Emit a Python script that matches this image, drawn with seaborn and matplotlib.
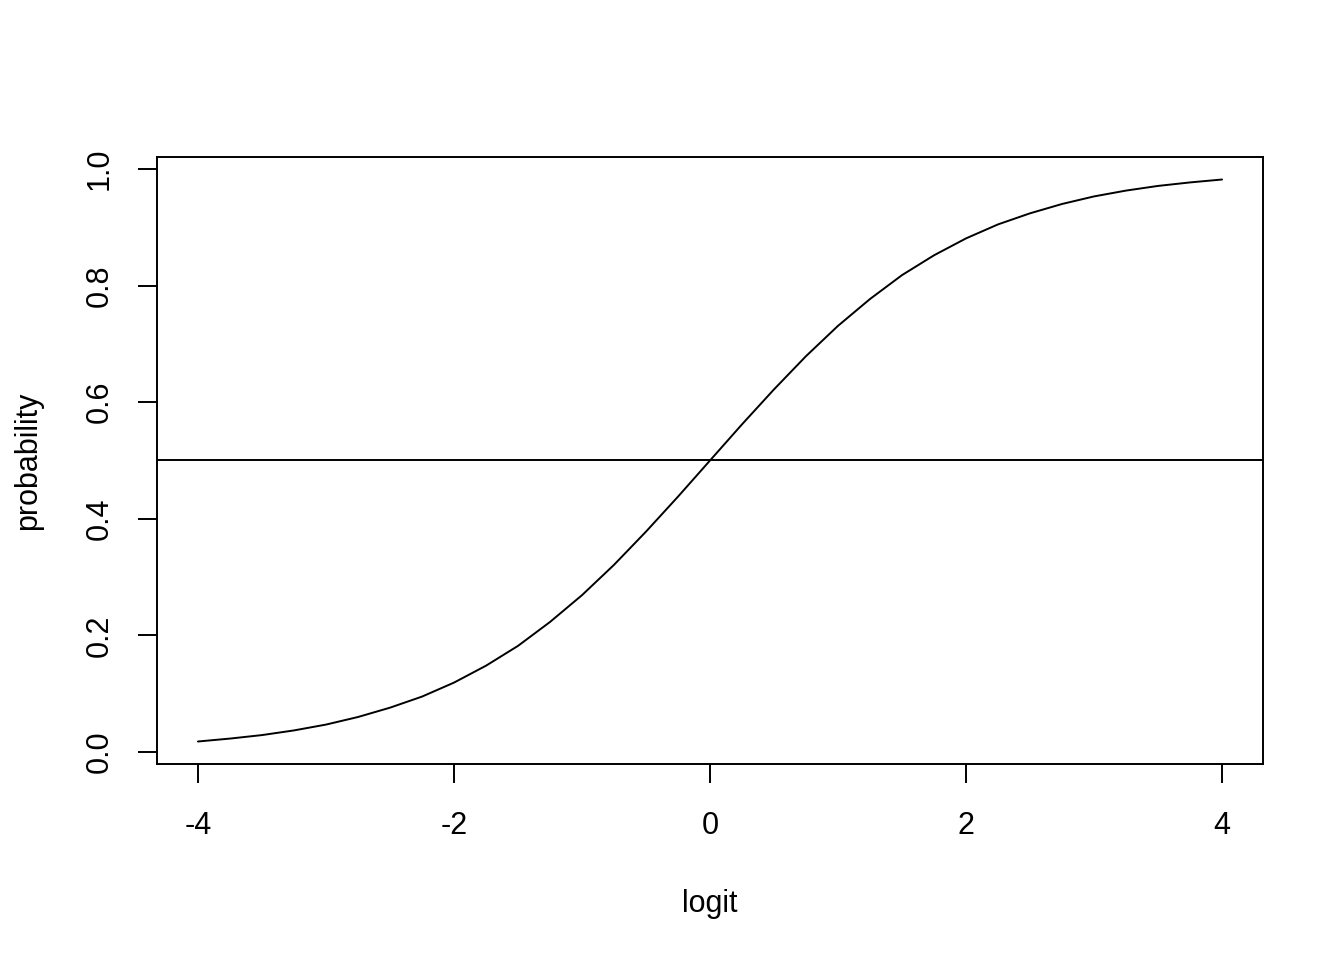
import numpy as np
import pandas as pd
import seaborn as sns
from matplotlib import pyplot as plt

# values
logit = [-4.0, -3.75, -3.5, -3.25, -3.0, -2.75, -2.5, -2.25, -2.0, -1.75, -1.5, -1.25, -1.0,
         -0.75, -0.5, -0.25, 0.0, 0.25, 0.5, 0.75, 1.0, 1.25, 1.5, 1.75, 2.0, 2.25, 2.5,
         2.75, 3.0, 3.25, 3.5, 3.75, 4.0]
probability = [0.018, 0.023, 0.029, 0.037, 0.047, 0.060, 0.076, 0.095, 0.119, 0.148, 0.182,
               0.223, 0.269, 0.321, 0.378, 0.438, 0.500, 0.562, 0.622, 0.679, 0.731, 0.777,
               0.818, 0.852, 0.881, 0.905, 0.924, 0.940, 0.953, 0.963, 0.971, 0.977, 0.982]
hline = 0.5
xticks = [-4, -2, 0, 2, 4]
yticks = [0.0, 0.2, 0.4, 0.6, 0.8, 1.0]

sns.set_style('ticks')
plt.rcParams['font.family'] = ['Liberation Sans', 'DejaVu Sans']

df = pd.DataFrame({'logit': logit, 'probability': probability})

fig = plt.figure(figsize=(13.44, 9.6), dpi=100)
ax = fig.add_axes([157 / 1344, 1 - 764 / 960, (1263 - 157) / 1344, (764 - 157) / 960])
sns.lineplot(data=df, x='logit', y='probability', color='black', lw=1.4, ax=ax)
ax.axhline(hline, color='black', lw=1.4)

ax.set_xlim(-4.32, 4.32)
ax.set_ylim(-0.0206, 1.0206)
ax.set_xticks(xticks)
ax.set_xticklabels([str(t) for t in xticks])
ax.set_yticks(yticks)
ax.set_yticklabels([f'{t:.1f}' for t in yticks], rotation=90, va='center')

for s in ax.spines.values():
    s.set_visible(True)
    s.set_linewidth(1.4)
    s.set_color('black')
ax.tick_params(axis='both', length=13.7, width=1.4, labelsize=22, color='black', labelcolor='black')
ax.tick_params(axis='x', pad=20.5)
ax.tick_params(axis='y', pad=17)
ax.set_xlabel('logit', fontsize=22, labelpad=34, color='black')
ax.set_ylabel('probability', fontsize=22, labelpad=30, color='black')

fig.savefig('out.png', dpi=100, facecolor='white')
